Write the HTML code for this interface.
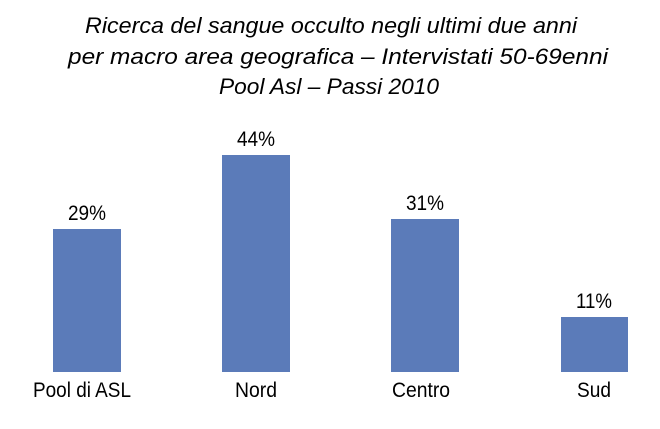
<!DOCTYPE html>
<html><head><style>
body{margin:0;background:#fff;}
svg text{font-family:"Liberation Sans Narrow","Liberation Sans",sans-serif;}
</style></head><body>
<svg width="660" height="424" xmlns="http://www.w3.org/2000/svg">
<rect width="660" height="424" fill="#fff"/>
<g font-style="italic" font-size="22" text-anchor="middle" fill="#000">
<text x="331" y="33" textLength="492" lengthAdjust="spacingAndGlyphs">Ricerca del sangue occulto negli ultimi due anni</text>
<text x="338" y="64" textLength="540" lengthAdjust="spacingAndGlyphs">per macro area geografica – Intervistati 50-69enni</text>
<text x="329" y="94" textLength="220" lengthAdjust="spacingAndGlyphs">Pool Asl – Passi 2010</text>
</g>
<g fill="#5b7bb9">
<rect x="53" y="229" width="68" height="143"/>
<rect x="222" y="155" width="68" height="217"/>
<rect x="391" y="219" width="68" height="153"/>
<rect x="561" y="317" width="67" height="55"/>
</g>
<g font-size="21" text-anchor="middle" fill="#000">
<text x="87" y="220" textLength="38" lengthAdjust="spacingAndGlyphs">29%</text>
<text x="256" y="146" textLength="38" lengthAdjust="spacingAndGlyphs">44%</text>
<text x="425" y="210" textLength="38" lengthAdjust="spacingAndGlyphs">31%</text>
<text x="594" y="308" textLength="36" lengthAdjust="spacingAndGlyphs">11%</text>
<text x="82" y="397" textLength="98" lengthAdjust="spacingAndGlyphs">Pool di ASL</text>
<text x="256" y="397" textLength="42" lengthAdjust="spacingAndGlyphs">Nord</text>
<text x="421" y="397" textLength="58" lengthAdjust="spacingAndGlyphs">Centro</text>
<text x="594" y="397" textLength="34" lengthAdjust="spacingAndGlyphs">Sud</text>
</g>
</svg>
</body></html>
